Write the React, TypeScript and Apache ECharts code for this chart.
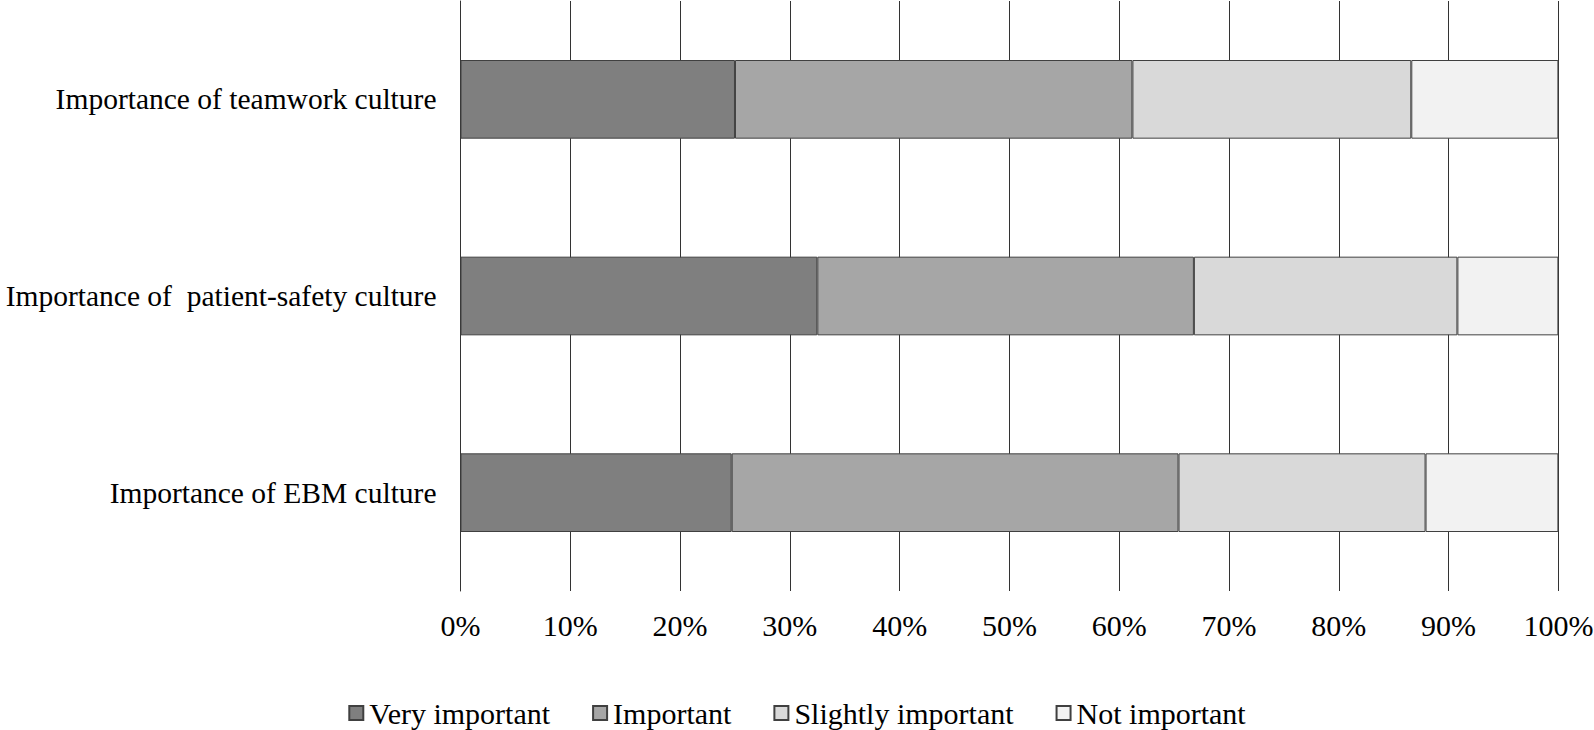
import React, { useEffect, useRef } from "react";
import * as echarts from "echarts";

const categories = [
  "Importance of EBM culture",
  "Importance of  patient-safety culture",
  "Importance of teamwork culture",
];
const seriesNames = ["Very important", "Important", "Slightly important", "Not important"];
const veryImportant = [24.7, 32.5, 25.0];
const important = [40.7, 34.3, 36.2];
const slightlyImportant = [22.5, 24.0, 25.4];
const notImportant = [12.1, 9.2, 13.4];
const colors = ["#7f7f7f", "#a6a6a6", "#d9d9d9", "#f2f2f2"];

const FONT = "'Liberation Serif', 'Times New Roman', serif";

export default function App() {
  const ref = useRef<HTMLDivElement>(null);
  useEffect(() => {
    if (!ref.current) return;
    const chart = echarts.init(ref.current, undefined, { renderer: "svg" });
    const values = [veryImportant, important, slightlyImportant, notImportant];
    chart.setOption({
      animation: false,
      backgroundColor: "#ffffff",
      textStyle: { fontFamily: FONT, color: "#000" },
      legend: {
        bottom: -3,
        left: "center",
        icon: "rect",
        itemWidth: 14,
        itemHeight: 14,
        itemGap: 42,
        textStyle: { fontFamily: FONT, fontSize: 30, color: "#000", padding: [0, 0, 0, 1] },
        data: seriesNames,
      },
      grid: {
        left: 460.5,
        right: 35.6,
        top: 1,
        bottom: 139,
        containLabel: false,
        outerBoundsMode: "none",
      },
      xAxis: {
        type: "value",
        min: 0,
        max: 100,
        interval: 10,
        axisLine: { show: false },
        axisTick: { show: false },
        axisLabel: {
          formatter: "{value}%",
          fontFamily: FONT,
          fontSize: 30,
          color: "#000",
          margin: 19,
        },
        splitLine: { show: true, lineStyle: { color: "#333333", width: 1 } },
      },
      yAxis: {
        type: "category",
        data: categories,
        axisLine: { show: true, lineStyle: { color: "#333333", width: 1 } },
        axisTick: { show: false },
        axisLabel: { fontFamily: FONT, fontSize: 29.5, color: "#000", margin: 24, padding: [0, 0, 6, 0] },
      },
      series: seriesNames.map((name, i) => ({
        name,
        type: "bar",
        stack: "total",
        barWidth: "40%",
        data: values[i],
        itemStyle: { color: colors[i], borderColor: "#404040", borderWidth: 1 },
      })),
    });
    return () => chart.dispose();
  }, []);
  return (
    <div
      ref={ref}
      style={{ position: "fixed", left: 0, top: 0, width: 1594, height: 730 }}
    />
  );
}
